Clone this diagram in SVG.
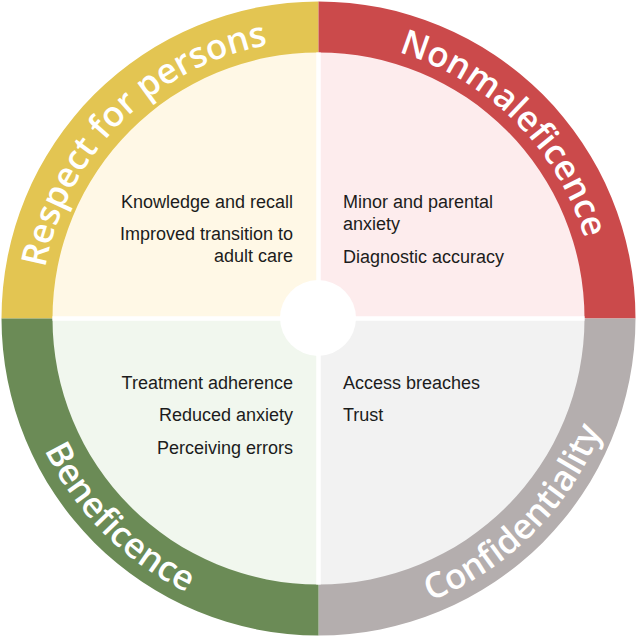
<svg xmlns="http://www.w3.org/2000/svg" xmlns:xlink="http://www.w3.org/1999/xlink" width="638" height="637" viewBox="0 0 638 637">
  <style>
    .item { font-family: "Liberation Sans", Arial, sans-serif; font-size: 18px; fill: #1c1c1c; }
    .r { text-anchor: end; }
    .ring { font-family: "Open Sans", "DejaVu Sans", sans-serif; font-size: 35px; font-weight: 600; fill: #ffffff; text-anchor: middle; }
    .gap { stroke: #ffffff; stroke-width: 4.5; }
  </style>
  <defs>
    <path id="topArc" d="M40.5,318.5 A278,278 0 0 1 596.5,318.5"/>
    <path id="botArc" d="M14.5,318.5 A304,304 0 0 0 622.5,318.5"/>
  </defs>
  <rect width="638" height="637" fill="#ffffff"/>

  <g id="respect">
    <path d="M318.5,318.5 L51.5,318.5 A267,267 0 0 1 318.5,51.5 Z" fill="#fff8e6"/>
    <path d="M1.5,318.5 A317,317 0 0 1 318.5,1.5 L318.5,52.5 A266,266 0 0 0 52.5,318.5 Z" fill="#e3c552"/>
    <text class="ring"><textPath href="#topArc" xlink:href="#topArc" startOffset="25%">Respect for persons</textPath></text>
    <text class="item r" x="293" y="208">Knowledge and recall</text>
    <text class="item r" x="293" y="240">Improved transition to</text>
    <text class="item r" x="293" y="262">adult care</text>
  </g>

  <g id="nonmaleficence">
    <path d="M318.5,318.5 L318.5,51.5 A267,267 0 0 1 585.5,318.5 Z" fill="#fdeced"/>
    <path d="M318.5,1.5 A317,317 0 0 1 635.5,318.5 L584.5,318.5 A266,266 0 0 0 318.5,52.5 Z" fill="#cb4a4b"/>
    <text class="ring"><textPath href="#topArc" xlink:href="#topArc" startOffset="75%">Nonmaleficence</textPath></text>
    <text class="item" x="343" y="208">Minor and parental</text>
    <text class="item" x="343" y="230">anxiety</text>
    <text class="item" x="343" y="263">Diagnostic accuracy</text>
  </g>

  <g id="confidentiality">
    <path d="M318.5,318.5 L585.5,318.5 A267,267 0 0 1 318.5,585.5 Z" fill="#f2f2f2"/>
    <path d="M635.5,318.5 A317,317 0 0 1 318.5,635.5 L318.5,584.5 A266,266 0 0 0 584.5,318.5 Z" fill="#b4aeae"/>
    <text class="ring"><textPath href="#botArc" xlink:href="#botArc" startOffset="75%">Confidentiality</textPath></text>
    <text class="item" x="343" y="389">Access breaches</text>
    <text class="item" x="343" y="421">Trust</text>
  </g>

  <g id="beneficence">
    <path d="M318.5,318.5 L318.5,585.5 A267,267 0 0 1 51.5,318.5 Z" fill="#f1f7ee"/>
    <path d="M318.5,635.5 A317,317 0 0 1 1.5,318.5 L52.5,318.5 A266,266 0 0 0 318.5,584.5 Z" fill="#6b8b56"/>
    <text class="ring"><textPath href="#botArc" xlink:href="#botArc" startOffset="25%">Beneficence</textPath></text>
    <text class="item r" x="293" y="389">Treatment adherence</text>
    <text class="item r" x="293" y="421">Reduced anxiety</text>
    <text class="item r" x="293" y="454">Perceiving errors</text>
  </g>

  <g id="connectors">
    <line class="gap" x1="318.5" y1="52.5" x2="318.5" y2="584.5"/>
    <line class="gap" x1="52.5" y1="318.5" x2="584.5" y2="318.5"/>
    <circle id="hub" cx="318" cy="318" r="38" fill="#ffffff"/>
  </g>
</svg>
